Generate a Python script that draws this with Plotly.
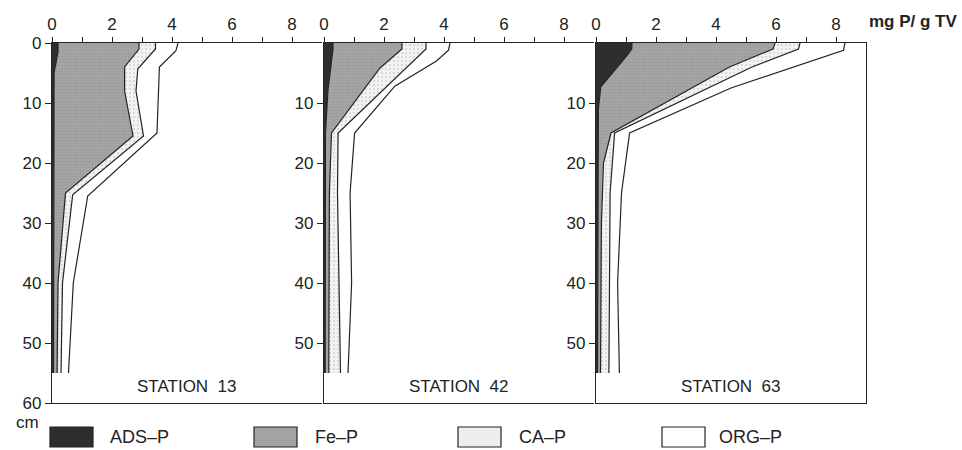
import plotly.graph_objects as go

# Sediment phosphorus fractions (cumulative boundaries, mg P / g TV) vs depth (cm)
stations = ["STATION  13", "STATION  42", "STATION  63"]
fractions = ["ADS–P", "Fe–P", "CA–P", "ORG–P"]

# Station 13
s13_ads_depth = [0, 1.5, 5, 55]
s13_ads = [0.2, 0.2, 0.07, 0.05]
s13_fe_depth = [0, 1, 4, 8, 15.5, 25, 40, 55]
s13_fe = [2.9, 2.9, 2.42, 2.42, 2.7, 0.45, 0.2, 0.17]
s13_ca_depth = [0, 1, 4.3, 8, 15.5, 25.3, 40, 55]
s13_ca = [3.45, 3.45, 2.86, 2.8, 3.05, 0.69, 0.35, 0.3]
s13_org_depth = [0, 1.3, 4, 15, 25.5, 40, 55]
s13_org = [4.2, 4.13, 3.58, 3.5, 1.19, 0.71, 0.55]

# Station 42
s42_ads_depth = [0, 1, 8, 15, 55]
s42_ads = [0.3, 0.3, 0.13, 0.05, 0.04]
s42_fe_depth = [0, 1, 4.2, 15, 25, 55]
s42_fe = [2.6, 2.6, 1.86, 0.25, 0.18, 0.16]
s42_ca_depth = [0, 1, 15, 25, 40, 55]
s42_ca = [3.4, 3.4, 0.47, 0.45, 0.5, 0.55]
s42_org_depth = [0, 1.2, 3, 7.2, 15, 25, 40, 55]
s42_org = [4.2, 4.15, 3.75, 2.36, 1.02, 0.87, 0.92, 0.8]

# Station 63
s63_ads_depth = [0, 1, 2, 4.7, 7.3, 11, 55]
s63_ads = [1.2, 1.19, 1.05, 0.58, 0.16, 0.08, 0.05]
s63_fe_depth = [0, 1, 4, 15, 20, 30, 55]
s63_fe = [5.97, 5.9, 4.45, 0.5, 0.25, 0.18, 0.15]
s63_ca_depth = [0, 1, 4, 15, 25, 55]
s63_ca = [6.8, 6.75, 5.2, 0.62, 0.47, 0.43]
s63_org_depth = [0, 1.2, 7.5, 15, 25, 40, 55]
s63_org = [8.3, 8.25, 4.5, 1.12, 0.85, 0.72, 0.78]

x_ticks = [0, 1, 2, 3, 4, 5, 6, 7, 8]
x_ticktext = ["0", "", "2", "", "4", "", "6", "", "8"]
depth_ticks_first = [0, 10, 20, 30, 40, 50, 60]
depth_ticks_other = [10, 20, 30, 40, 50]

panels = [
    [(s13_ads_depth, s13_ads), (s13_fe_depth, s13_fe), (s13_ca_depth, s13_ca), (s13_org_depth, s13_org)],
    [(s42_ads_depth, s42_ads), (s42_fe_depth, s42_fe), (s42_ca_depth, s42_ca), (s42_org_depth, s42_org)],
    [(s63_ads_depth, s63_ads), (s63_fe_depth, s63_fe), (s63_ca_depth, s63_ca), (s63_org_depth, s63_org)],
]

FONT = "Liberation Sans, Arial, sans-serif"
INK = "#232323"
FILLS = ["#2e2e2e", "#a3a3a3", "#eeeeee", "#ffffff"]
PATTERNS = [
    None,
    dict(shape=".", bgcolor="#a6a6a6", fgcolor="#8a8a8a", size=3, solidity=0.35),
    dict(shape=".", bgcolor="#f3f3f3", fgcolor="#bcbcbc", size=4, solidity=0.25),
    None,
]

fig = go.Figure()

W_PLOT = 814.0
domains = [[0, 270 / W_PLOT], [272 / W_PLOT, 542 / W_PLOT], [544 / W_PLOT, 1.0]]

for i, layers in enumerate(panels):
    xa = "x" if i == 0 else f"x{i + 1}"
    ya = "y" if i == 0 else f"y{i + 1}"
    # baseline along the depth axis
    fig.add_trace(go.Scatter(x=[0, 0], y=[0, 55], mode="lines",
                             line=dict(width=0, color=INK), xaxis=xa, yaxis=ya,
                             showlegend=False, hoverinfo="skip"))
    for k, (dep, val) in enumerate(layers):
        kw = dict(x=val, y=dep, mode="lines", fill="tonextx",
                  fillcolor=FILLS[k], line=dict(color=INK, width=1.2),
                  xaxis=xa, yaxis=ya, name=fractions[k], showlegend=False)
        if PATTERNS[k] is not None:
            kw["fillpattern"] = PATTERNS[k]
        fig.add_trace(go.Scatter(**kw))

axis_font = dict(family=FONT, size=17, color=INK)
layout = dict(
    width=962, height=450,
    margin=dict(l=52, r=96, t=43, b=47),
    paper_bgcolor="white", plot_bgcolor="rgba(0,0,0,0)",
    showlegend=False,
    font=axis_font,
)
for i in range(3):
    xkey = "xaxis" if i == 0 else f"xaxis{i + 1}"
    ykey = "yaxis" if i == 0 else f"yaxis{i + 1}"
    ya = "y" if i == 0 else f"y{i + 1}"
    xa = "x" if i == 0 else f"x{i + 1}"
    layout[xkey] = dict(
        domain=domains[i], anchor=ya, side="top", range=[0, 9],
        tickvals=x_ticks, ticktext=x_ticktext, ticks="outside", ticklen=5,
        tickcolor=INK, tickwidth=1.2, showline=True, linecolor=INK, linewidth=1.4,
        mirror=True, showgrid=False, zeroline=False, tickfont=axis_font,
    )
    layout[ykey] = dict(
        domain=[0, 1], anchor=xa, range=[60, 0],
        tickvals=depth_ticks_first if i == 0 else depth_ticks_other,
        ticks="outside", ticklen=6, tickcolor=INK, tickwidth=1.2,
        showline=True, linecolor=INK, linewidth=1.4, mirror=(i == 2),
        showgrid=False, zeroline=False, tickfont=axis_font,
    )
fig.update_layout(**layout)

# station names inside each panel
for i, name in enumerate(stations):
    xa = "x" if i == 0 else f"x{i + 1}"
    ya = "y" if i == 0 else f"y{i + 1}"
    fig.add_annotation(x=4.5, y=57.3, xref=xa, yref=ya, text=name, showarrow=False,
                       font=dict(family=FONT, size=17, color=INK))

# unit labels
fig.add_annotation(x=1.0 + 1 / W_PLOT, y=(403 - 21) / 360, xref="paper", yref="paper",
                   xanchor="left", yanchor="middle", text="<b>mg P/ g TV</b>", showarrow=False,
                   font=dict(family=FONT, size=17, color=INK))
fig.add_annotation(x=(27 - 52) / W_PLOT, y=(403 - 422) / 360, xref="paper", yref="paper",
                   xanchor="center", yanchor="middle", text="cm", showarrow=False,
                   font=dict(family=FONT, size=17, color=INK))

# legend boxes and labels
box_left_px = [50, 254, 458, 662]
label_left_px = [108, 313, 517, 717]
for k, name in enumerate(fractions):
    x0 = (box_left_px[k] - 52) / W_PLOT
    x1 = (box_left_px[k] + 43 - 52) / W_PLOT
    fig.add_shape(type="rect", xref="paper", yref="paper", x0=x0, x1=x1,
                  y0=(403 - 447) / 360, y1=(403 - 427) / 360,
                  fillcolor=FILLS[k], line=dict(color=INK, width=1.2))
    fig.add_annotation(x=(label_left_px[k] - 52) / W_PLOT, y=(403 - 437) / 360,
                       xref="paper", yref="paper", xanchor="left", yanchor="middle",
                       text=name, showarrow=False,
                       font=dict(family=FONT, size=18, color=INK))

fig.write_html("out.html")
